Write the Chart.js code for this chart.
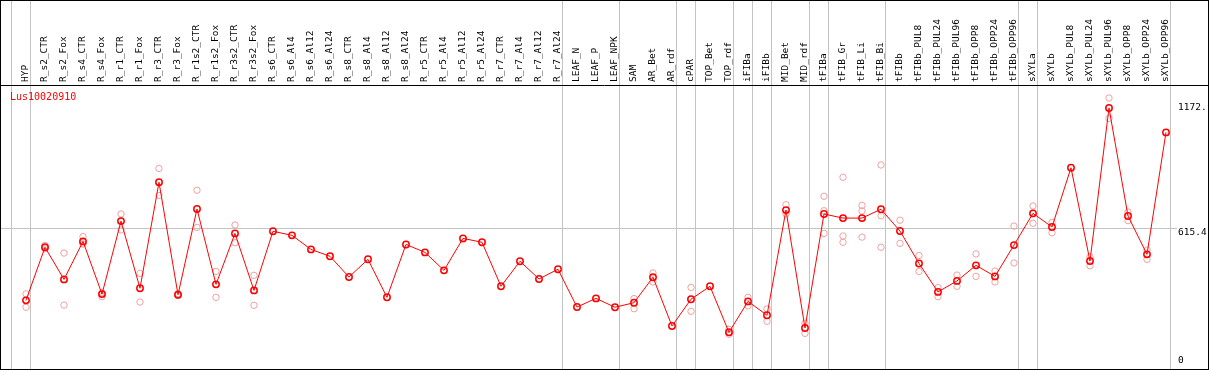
<!DOCTYPE html>
<html lang="en">
<head>
  <meta charset="UTF-8">
  <title>Lus10020910</title>
  <script src="https://cdn.jsdelivr.net/npm/chart.js"></script>
  <style>
    html, body { margin: 0; padding: 0; background: #fff; }
    #wrap { width: 1209px; height: 370px; }
  </style>
</head>
<body>
  <div id="wrap"><canvas id="chartCanvas" width="1209" height="370"></canvas></div>

  <script>
    // samples along the x axis
    const categories = [
      "HYP", "R_s2_CTR", "R_s2_Fox", "R_s4_CTR", "R_s4_Fox", "R_r1_CTR", "R_r1_Fox",
      "R_r3_CTR", "R_r3_Fox", "R_r1s2_CTR", "R_r1s2_Fox", "R_r3s2_CTR", "R_r3s2_Fox",
      "R_s6_CTR", "R_s6_Al4", "R_s6_Al12", "R_s6_Al24", "R_s8_CTR", "R_s8_Al4", "R_s8_Al12",
      "R_s8_Al24", "R_r5_CTR", "R_r5_Al4", "R_r5_Al12", "R_r5_Al24", "R_r7_CTR", "R_r7_Al4",
      "R_r7_Al12", "R_r7_Al24", "LEAF_N", "LEAF_P", "LEAF_NPK", "SAM", "AR_Bet", "AR_rdf",
      "cPAR", "TOP_Bet", "TOP_rdf", "iFIBa", "iFIBb", "MID_Bet", "MID_rdf", "tFIBa",
      "tFIB_Gr", "tFIB_Li", "tFIB_Bi", "tFIBb", "tFIBb_PUL8", "tFIBb_PUL24", "tFIBb_PUL96",
      "tFIBb_OPP8", "tFIBb_OPP24", "tFIBb_OPP96", "sXYLa", "sXYLb", "sXYLb_PUL8",
      "sXYLb_PUL24", "sXYLb_PUL96", "sXYLb_OPP8", "sXYLb_OPP24", "sXYLb_OPP96"
    ];

    // mean expression (red line)
    const meanValues = [
      281, 527, 378, 554, 310, 648, 337, 828, 307, 704, 355, 591, 327,
      601, 582, 517, 485, 389, 471, 295, 540, 503, 420, 568, 550, 346, 462, 380, 425,
      250, 290, 249, 270, 388, 162, 286, 346, 133, 276, 212, 699, 153, 681,
      662, 662, 703, 602, 452, 320, 371, 443, 392, 537, 684, 621, 895,
      463, 1172, 672, 494, 1059
    ];

    // replicates (pale circles), null where none is visible
    const rep1 = [
      311, 535, 500, 576, 316, 681, 406, 892, 312, 791, 415, 630, 397,
      null, null, null, null, null, null, null, null, null, null, null, null, null, null, null, null,
      null, null, null, 289, 408, null, 341, null, 147, 295, 241, 724, 175, 763,
      851, 721, 908, 652, 489, 340, 398, 496, 417, 625, 718, 642, null,
      483, 1218, 690, 514, null
    ];
    const rep2 = [
      249, 520, 259, 542, 298, 607, 273, 767, 303, 619, 295, 548, 258,
      null, null, null, null, null, null, null, null, null, null, null, null, null, null, null, null,
      null, null, null, 242, 366, null, 230, null, 124, 255, 184, 681, 128, 696,
      579, 695, 673, 545, 415, 298, 346, 392, 366, 454, 638, 594, null,
      441, 1124, 650, 471, null
    ];
    const rep3 = [
      null, null, null, null, null, null, null, null, null, null, null, null, null,
      null, null, null, null, null, null, null, null, null, null, null, null, null, null, null, null,
      null, null, null, null, null, null, null, null, null, null, null, null, null, 591,
      550, 574, 527, null, null, null, null, null, null, null, null, null, null,
      null, null, null, null, null
    ];

    // index of the last sample of each group (-1 = line before the first one)
    const groupEnds = [-1, 0, 28, 31, 34, 35, 37, 38, 39, 41, 42, 45, 52, 53, 60];

    // y axis labels as printed
    const yTickValues = [0, 615.4, 1172];
    const yTickLabels = ["0", ["", "615.4"], "1172."];

    const geneName = "Lus10020910";

    const mono = "'DejaVu Sans Mono', monospace";

    function toPoints(arr) {
      const pts = [];
      arr.forEach((v, i) => { if (v !== null) pts.push({ x: i, y: v }); });
      return pts;
    }

    function noPadding(scale) {
      scale.paddingLeft = 0;
      scale.paddingRight = 0;
      scale.paddingTop = 0;
      scale.paddingBottom = 0;
    }

    const framePlugin = {
      id: "frame",
      beforeDatasetsDraw(chart) {
        const ctx = chart.ctx;
        const xs = chart.scales.x;
        ctx.save();
        ctx.strokeStyle = "#c4c4c4";
        ctx.lineWidth = 1;
        groupEnds.forEach(g => {
          const px = Math.round(xs.getPixelForValue(g)) + 4 + 0.5;
          ctx.beginPath();
          ctx.moveTo(px, 0);
          ctx.lineTo(px, chart.height);
          ctx.stroke();
        });
        ctx.restore();
      },
      afterDraw(chart) {
        const ctx = chart.ctx;
        ctx.save();
        ctx.strokeStyle = "#000";
        ctx.lineWidth = 1;
        ctx.strokeRect(0.5, 0.5, chart.width - 1, chart.height - 1);
        ctx.beginPath();
        ctx.moveTo(0, chart.chartArea.top - 0.5);
        ctx.lineTo(chart.width, chart.chartArea.top - 0.5);
        ctx.stroke();
        ctx.fillStyle = "#ff0000";
        ctx.font = "10px " + mono;
        ctx.textBaseline = "middle";
        ctx.fillText(geneName, 10, 97);
        ctx.restore();
      }
    };

    new Chart(document.getElementById("chartCanvas"), {
      type: "line",
      data: {
        datasets: [
          {
            label: geneName,
            data: toPoints(meanValues),
            borderColor: "#ff0000",
            borderWidth: 1,
            pointStyle: "circle",
            pointRadius: 3.2,
            pointBorderWidth: 1.5,
            pointBorderColor: "#ff0000",
            pointBackgroundColor: "rgba(0,0,0,0)",
            tension: 0,
            order: 0
          },
          ...[rep1, rep2, rep3].map((r, k) => ({
            label: "rep" + (k + 1),
            data: toPoints(r),
            showLine: false,
            pointRadius: 3.2,
            pointBorderWidth: 1,
            pointBorderColor: "#f0a0a0",
            pointBackgroundColor: "rgba(0,0,0,0)",
            order: 1
          }))
        ]
      },
      options: {
        responsive: false,
        animation: false,
        layout: { autoPadding: false, padding: { left: 1, right: 0, top: 0, bottom: 1 } },
        plugins: {
          legend: { display: false },
          tooltip: { enabled: false }
        },
        scales: {
          x: {
            type: "linear",
            position: "top",
            min: -1.3158,
            max: 60.579,
            afterFit(scale) { scale.height = 86; noPadding(scale); },
            grid: { display: false, drawTicks: false },
            border: { display: false },
            ticks: {
              stepSize: 1,
              includeBounds: false,
              autoSkip: false,
              minRotation: 90,
              maxRotation: 90,
              padding: 4,
              labelOffset: 11.4,
              color: "#000",
              font: { family: mono, size: 9.5 },
              callback: v => categories[v] ?? ""
            }
          },
          y: {
            type: "linear",
            position: "right",
            min: -37.06,
            max: 1273.9,
            afterFit(scale) { scale.width = 32; noPadding(scale); },
            afterBuildTicks(scale) {
              scale.ticks = yTickValues.map(v => ({ value: v }));
            },
            grid: {
              drawTicks: false,
              color: c => (c.tick && c.tick.value === 615.4 ? "#c4c4c4" : "rgba(0,0,0,0)")
            },
            border: { display: false },
            ticks: {
              padding: 1,
              color: "#000",
              font: { family: mono, size: 9.5, lineHeight: 1 },
              callback: (v, i) => yTickLabels[i]
            }
          }
        }
      },
      plugins: [framePlugin]
    });
  </script>
</body>
</html>
